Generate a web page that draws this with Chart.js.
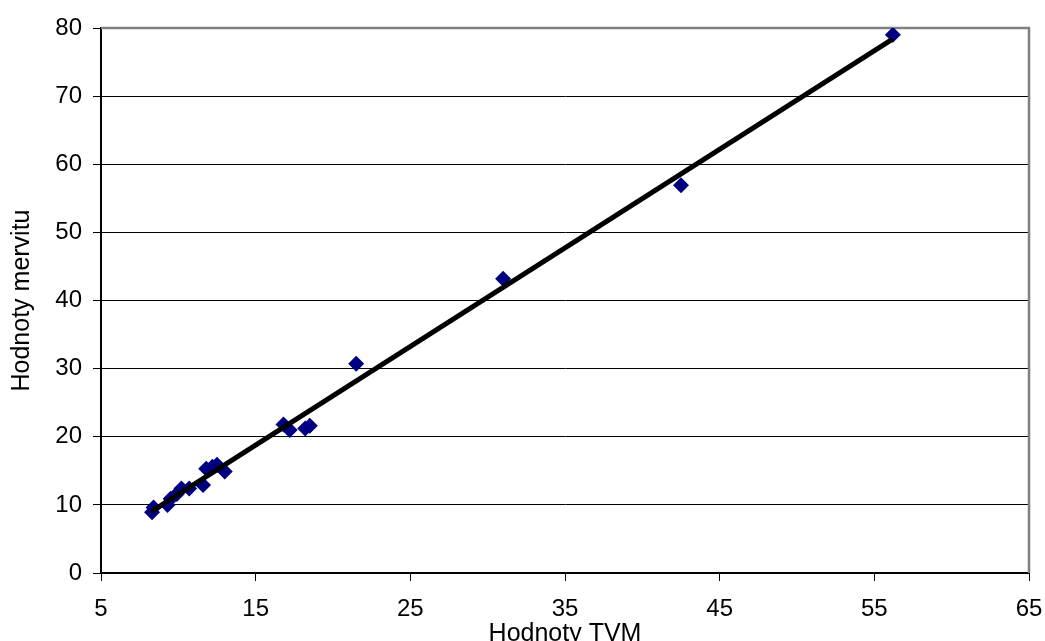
<!DOCTYPE html>
<html>
<head>
<meta charset="utf-8">
<script src="https://cdn.jsdelivr.net/npm/chart.js@4.4.1/dist/chart.umd.min.js"></script>
<style>
  html, body { margin: 0; padding: 0; background: #ffffff; }
  #wrap { width: 1045px; height: 641px; position: relative; }
</style>
</head>
<body>
<div id="wrap"><canvas id="c" width="1045" height="641"></canvas></div>
<script>
// Data
const tvmValues    = [8.3, 8.4, 9.3, 9.5, 9.9, 10.2, 10.7, 11.6, 11.8, 12.2, 12.5, 13.0, 16.8, 17.2, 18.2, 18.5, 21.5, 31.0, 42.5, 56.2];
const mervituValues = [8.9, 9.6, 10.0, 10.9, 11.6, 12.4, 12.4, 12.9, 15.3, 15.6, 15.9, 14.9, 21.8, 21.0, 21.2, 21.6, 30.7, 43.2, 56.9, 79.0];
// Trendline endpoints as drawn in the reference
const trendX = [8.25, 56.2];
const trendY = [9.0, 78.4];
const xTicks = [5, 15, 25, 35, 45, 55, 65];
const yTicks = [0, 10, 20, 30, 40, 50, 60, 70, 80];

const points = tvmValues.map((x, i) => ({ x: x, y: mervituValues[i] }));
const trend = trendX.map((x, i) => ({ x: x, y: trendY[i] }));

const FONT = "'Liberation Sans', Arial, sans-serif";

const frame = {
  id: 'frame',
  beforeDatasetsDraw(chart) {
    const a = chart.chartArea, ctx = chart.ctx;
    ctx.save();
    ctx.strokeStyle = '#808080';
    ctx.lineWidth = 2.5;
    ctx.beginPath();
    ctx.moveTo(a.left, a.top);
    ctx.lineTo(a.right, a.top);
    ctx.lineTo(a.right, a.bottom);
    ctx.stroke();
    ctx.restore();
  }
};

new Chart(document.getElementById('c'), {
  type: 'scatter',
  data: {
    datasets: [
      {
        label: 'Trend',
        data: trend,
        showLine: true,
        borderColor: '#000000',
        borderWidth: 5,
        pointRadius: 0,
        order: 0
      },
      {
        label: 'Hodnoty',
        data: points,
        pointStyle: 'rectRot',
        pointRadius: 8,
        pointBackgroundColor: '#000080',
        pointBorderColor: '#000080',
        pointBorderWidth: 0,
        order: 1
      }
    ]
  },
  options: {
    responsive: false,
    animation: false,
    devicePixelRatio: 1,
    layout: { padding: { left: 7, right: 16, top: 28, bottom: 0 } },
    plugins: { legend: { display: false }, tooltip: { enabled: false } },
    scales: {
      x: {
        type: 'linear',
        min: 5, max: 65,
        afterBuildTicks(scale) { scale.ticks = xTicks.map(v => ({ value: v })); },
        afterFit(scale) { scale.height = 641 - 573; scale.paddingLeft = 0; scale.paddingRight = 0; },
        grid: { drawOnChartArea: false, drawTicks: true, tickLength: 8, color: '#000000', tickColor: '#000000' },
        border: { display: true, color: '#000000', width: 2 },
        ticks: { color: '#000000', font: { family: FONT, size: 24 }, padding: 14, maxRotation: 0 },
        title: { display: true, text: 'Hodnoty TVM', color: '#000000', font: { family: FONT, size: 25 }, padding: { top: 0, bottom: -8 } }
      },
      y: {
        type: 'linear',
        min: 0, max: 80,
        afterBuildTicks(scale) { scale.ticks = yTicks.map(v => ({ value: v })); },
        afterFit(scale) { scale.width = 94; scale.paddingTop = 0; scale.paddingBottom = 0; },
        grid: {
          drawTicks: true, tickLength: 8,
          color: ctx => (ctx.tick && ctx.tick.value === 80) ? '#808080' : '#000000',
          tickColor: '#000000',
          lineWidth: 1
        },
        border: { display: true, color: '#000000', width: 2 },
        ticks: { color: '#000000', font: { family: FONT, size: 24 }, padding: 11 },
        title: { display: true, text: 'Hodnoty mervitu', color: '#000000', font: { family: FONT, size: 25 }, padding: 0 }
      }
    }
  },
  plugins: [frame]
});
</script>
</body>
</html>
